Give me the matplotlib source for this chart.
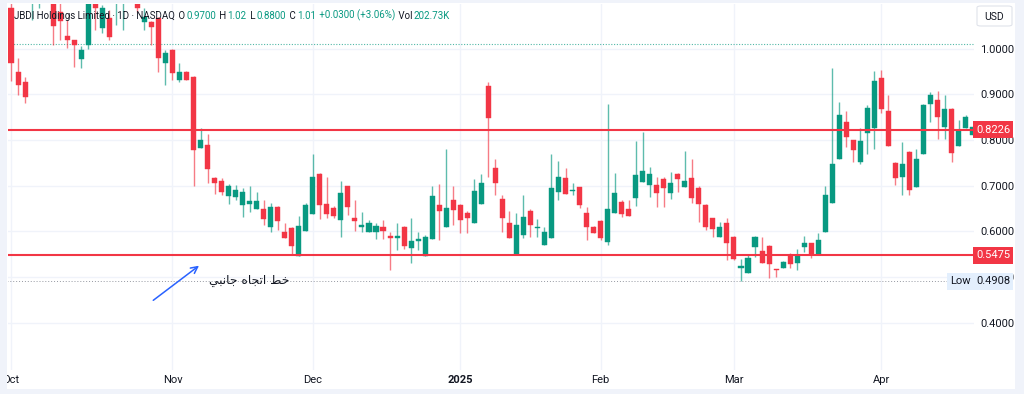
import matplotlib
matplotlib.use("Agg")
import matplotlib.pyplot as plt
import matplotlib.transforms as mtrans
from matplotlib.patches import Rectangle, FancyBboxPatch
import numpy as np

plt.rcParams['font.family'] = ['Roboto', 'DejaVu Sans']

# daily candles, JBDI, 1 Oct 2024 -> mid Apr 2025 (bar index = trading day)
opens = [1.09, 0.949, 0.927, 1.10, 1.12, 1.18, 1.13, 1.08, 1.028, 1.019,
         0.977, 1.008, 1.12, 1.046, 1.067, 1.10, 1.14, 1.17, 1.11, 1.058,
         1.058, 1.067, 0.968, 0.997, 0.931, 0.949, 0.938, 0.782, 0.789, 0.717,
         0.710, 0.677, 0.675, 0.658, 0.660, 0.649, 0.649, 0.609, 0.653, 0.599,
         0.607, 0.546, 0.601, 0.637, 0.725, 0.660, 0.651, 0.625, 0.699, 0.629,
         0.609, 0.599, 0.599, 0.609, 0.589, 0.585, 0.609, 0.564, 0.579, 0.546,
         0.583, 0.658, 0.609, 0.669, 0.658, 0.640, 0.618, 0.660, 0.918, 0.739,
         0.671, 0.618, 0.548, 0.592, 0.645, 0.607, 0.570, 0.585, 0.686, 0.717,
         0.689, 0.697, 0.640, 0.609, 0.623, 0.577, 0.640, 0.664, 0.649, 0.673,
         0.708, 0.701, 0.701, 0.714, 0.684, 0.725, 0.697, 0.717, 0.695, 0.658,
         0.629, 0.588, 0.618, 0.588, 0.520, 0.509, 0.566, 0.557, 0.568, 0.518,
         0.520, 0.548, 0.531, 0.566, 0.574, 0.548, 0.599, 0.662, 0.758, 0.840,
         0.800, 0.752, 0.815, 0.826, 0.936, 0.864, 0.750, 0.720, 0.774, 0.697,
         0.769, 0.879, 0.888, 0.829, 0.868, 0.787, 0.826, 0.811]
highs = [1.10, 0.980, 0.938, 1.16, 1.17, 1.22, 1.14, 1.11, 1.063, 1.020,
         1.006, 1.13, 1.13, 1.095, 1.085, 1.16, 1.20, 1.21, 1.12, 1.09,
         1.06, 1.07, 0.997, 1.00, 0.968, 0.951, 0.940, 0.826, 0.813, 0.720,
         0.717, 0.704, 0.701, 0.695, 0.699, 0.686, 0.669, 0.662, 0.655, 0.618,
         0.610, 0.634, 0.662, 0.769, 0.727, 0.719, 0.655, 0.710, 0.700, 0.669,
         0.642, 0.625, 0.618, 0.625, 0.599, 0.618, 0.612, 0.629, 0.599, 0.592,
         0.699, 0.704, 0.780, 0.699, 0.660, 0.645, 0.714, 0.725, 0.927, 0.758,
         0.679, 0.645, 0.640, 0.679, 0.650, 0.627, 0.609, 0.769, 0.754, 0.739,
         0.705, 0.697, 0.653, 0.612, 0.625, 0.879, 0.728, 0.669, 0.669, 0.798,
         0.818, 0.741, 0.719, 0.720, 0.730, 0.728, 0.776, 0.758, 0.700, 0.660,
         0.630, 0.620, 0.629, 0.590, 0.539, 0.548, 0.590, 0.588, 0.570, 0.518,
         0.535, 0.552, 0.561, 0.590, 0.574, 0.596, 0.699, 0.958, 0.883, 0.864,
         0.800, 0.826, 0.877, 0.951, 0.953, 0.899, 0.752, 0.796, 0.776, 0.780,
         0.879, 0.905, 0.908, 0.899, 0.870, 0.844, 0.855, 0.829]
lows = [0.930, 0.899, 0.881, 1.063, 1.09, 1.11, 1.008, 1.02, 1.001, 0.960,
        0.958, 0.999, 1.04, 1.035, 1.02, 1.052, 1.04, 1.10, 1.08, 1.04,
        1.008, 0.949, 0.920, 0.931, 0.927, 0.931, 0.699, 0.782, 0.705, 0.682,
        0.679, 0.660, 0.668, 0.631, 0.642, 0.649, 0.613, 0.599, 0.603, 0.585,
        0.550, 0.546, 0.601, 0.637, 0.627, 0.629, 0.629, 0.588, 0.636, 0.600,
        0.599, 0.599, 0.583, 0.583, 0.515, 0.559, 0.561, 0.531, 0.559, 0.546,
        0.583, 0.581, 0.609, 0.614, 0.596, 0.596, 0.618, 0.660, 0.719, 0.679,
        0.599, 0.585, 0.548, 0.585, 0.588, 0.588, 0.570, 0.585, 0.669, 0.682,
        0.679, 0.651, 0.581, 0.596, 0.581, 0.570, 0.640, 0.631, 0.634, 0.655,
        0.708, 0.675, 0.653, 0.653, 0.671, 0.686, 0.697, 0.662, 0.620, 0.603,
        0.588, 0.588, 0.537, 0.537, 0.4908, 0.509, 0.544, 0.531, 0.498, 0.500,
        0.520, 0.520, 0.515, 0.555, 0.541, 0.548, 0.599, 0.662, 0.758, 0.785,
        0.752, 0.747, 0.769, 0.780, 0.859, 0.787, 0.701, 0.679, 0.679, 0.697,
        0.769, 0.840, 0.802, 0.802, 0.752, 0.787, 0.826, 0.811]
closes = [0.968, 0.920, 0.894, 1.14, 1.15, 1.14, 1.05, 1.06, 1.019, 1.008,
          0.997, 1.11, 1.089, 1.089, 1.026, 1.14, 1.17, 1.12, 1.089, 1.07,
          1.047, 0.980, 0.990, 0.947, 0.949, 0.931, 0.778, 0.800, 0.736, 0.705,
          0.686, 0.699, 0.690, 0.686, 0.666, 0.666, 0.627, 0.653, 0.623, 0.585,
          0.568, 0.612, 0.658, 0.719, 0.658, 0.638, 0.633, 0.684, 0.653, 0.623,
          0.614, 0.618, 0.612, 0.601, 0.585, 0.589, 0.568, 0.579, 0.583, 0.587,
          0.677, 0.645, 0.651, 0.647, 0.625, 0.629, 0.688, 0.706, 0.848, 0.705,
          0.629, 0.585, 0.614, 0.631, 0.614, 0.609, 0.599, 0.695, 0.719, 0.682,
          0.690, 0.658, 0.609, 0.596, 0.585, 0.649, 0.684, 0.638, 0.634, 0.723,
          0.732, 0.725, 0.684, 0.695, 0.706, 0.714, 0.710, 0.673, 0.660, 0.609,
          0.605, 0.609, 0.574, 0.539, 0.524, 0.542, 0.588, 0.531, 0.529, 0.515,
          0.533, 0.529, 0.548, 0.574, 0.548, 0.581, 0.680, 0.748, 0.855, 0.807,
          0.778, 0.798, 0.870, 0.929, 0.868, 0.787, 0.717, 0.748, 0.690, 0.758,
          0.877, 0.899, 0.850, 0.868, 0.771, 0.820, 0.850, 0.829]

month_pos = [0, 23, 43, 64, 84, 103, 124]
month_labels = ['Oct', 'Nov', 'Dec', '2025', 'Feb', 'Mar', 'Apr']
price_ticks = [0.4, 0.5, 0.6, 0.7, 0.8, 0.9, 1.0]

resistance = 0.8226
support = 0.5475
period_low = 0.4908
last_mark = 1.01
note = 'خط اتجاه جانبي'

UP = '#089981'
DOWN = '#f23645'
TXT = '#131722'


def shape_arabic(s):
    # minimal contextual shaping + visual reordering (matplotlib has no bidi)
    forms = {
        'خ': (0xFEA5, 0xFEA6, 0xFEA7, 0xFEA8),
        'ط': (0xFEC1, 0xFEC2, 0xFEC3, 0xFEC4),
        'ا': (0xFE8D, 0xFE8E, None, None),
        'ت': (0xFE95, 0xFE96, 0xFE97, 0xFE98),
        'ج': (0xFE9D, 0xFE9E, 0xFE9F, 0xFEA0),
        'ه': (0xFEE9, 0xFEEA, 0xFEEB, 0xFEEC),
        'ن': (0xFEE5, 0xFEE6, 0xFEE7, 0xFEE8),
        'ب': (0xFE8F, 0xFE90, 0xFE91, 0xFE92),
        'ي': (0xFEF1, 0xFEF2, 0xFEF3, 0xFEF4),
    }
    out = []
    for k, ch in enumerate(s):
        if ch not in forms:
            out.append(ch)
            continue
        prev = s[k - 1] if k > 0 else ''
        nxt = s[k + 1] if k + 1 < len(s) else ''
        jp = prev in forms and forms[prev][2] is not None
        jn = nxt in forms and forms[ch][2] is not None
        f = forms[ch]
        code = f[3] if (jp and jn) else f[1] if jp else f[2] if jn else f[0]
        out.append(chr(code))
    return ''.join(out[::-1])


fig = plt.figure(figsize=(10.24, 3.94), dpi=100, facecolor='#f0f3fa')
fig.add_artist(Rectangle((7 / 1024, 5 / 394), 1008 / 1024, 386 / 394,
                         transform=fig.transFigure, fc='white', ec='none', zorder=-5))
ax = fig.add_axes([8 / 1024, 24 / 394, 966 / 1024, 366 / 394])
ax.set_facecolor('white')

idx = np.arange(len(opens))
o = np.array(opens)
c = np.array(closes)
h = np.array(highs)
l = np.array(lows)
col = np.where(c >= o, UP, DOWN)

ax.vlines(idx, l, h, colors=col, linewidth=1, alpha=0.65, zorder=3)
body = np.maximum(np.abs(c - o), 0.002)
ax.bar(idx, body, bottom=np.minimum(o, c), width=0.72, color=col,
       edgecolor=col, linewidth=0.3, zorder=4)

# grid
for p in price_ticks:
    ax.axhline(p, color='#f0f3fa', lw=1, zorder=0)
for m in month_pos:
    ax.axvline(m, color='#f0f3fa', lw=1, zorder=0)

# horizontal levels
ax.axhline(resistance, color=DOWN, lw=1.5, zorder=5)
ax.axhline(support, color=DOWN, lw=1.5, zorder=5)
ax.axhline(last_mark, color=UP, lw=0.8, ls=(0, (1, 1.5)), alpha=0.7, zorder=2)
ax.plot([-1, 134.3], [period_low, period_low], color='#9598a1', lw=0.7,
        ls=(0, (1, 2)), zorder=2)

ax.set_xlim(-0.43, 137.2)
ax.set_ylim(0.2965, 1.0979)

for s in ax.spines.values():
    s.set_visible(False)
ax.yaxis.tick_right()
ax.set_yticks(price_ticks)
ax.set_yticklabels(['%.4f' % p for p in price_ticks])
ax.tick_params(axis='y', length=0, pad=4.5, labelsize=8, labelcolor=TXT)
ax.set_xticks(month_pos)
ax.set_xticklabels(month_labels)
ax.tick_params(axis='x', length=0, pad=3.5, labelsize=8, labelcolor=TXT)
ax.get_xticklabels()[3].set_fontweight('bold')

# price scale labels
bt = mtrans.blended_transform_factory(fig.transFigure, ax.transData)
for v in (resistance, support):
    ax.text(993 / 1024, v, '%.4f' % v, transform=bt, ha='center', va='center',
            fontsize=8, color='white', zorder=20, clip_on=False,
            bbox=dict(boxstyle='square,pad=0.3', fc=DOWN, ec='none'))
ax.text(993 / 1024, period_low, '%.4f' % period_low, transform=bt, ha='center',
        va='center', fontsize=8, color=TXT, zorder=20, clip_on=False,
        bbox=dict(boxstyle='square,pad=0.3', fc='#e3effd', ec='none'))
ax.text(960.5 / 1024, period_low, 'Low', transform=bt, ha='center', va='center',
        fontsize=8, color=TXT, zorder=20, clip_on=False,
        bbox=dict(boxstyle='square,pad=0.3', fc='#e3effd', ec='none'))

# currency box
fig.add_artist(FancyBboxPatch((977 / 1024, 368 / 394), 35 / 1024, 20 / 394,
                              boxstyle='round,pad=0,rounding_size=0.004',
                              transform=fig.transFigure, fc='white', ec='#e0e3eb',
                              lw=0.8, zorder=6))
fig.text(994.5 / 1024, 377.5 / 394, 'USD', ha='center', va='center', fontsize=7.5,
         color=TXT, zorder=7)

# legend line
segs = [('JBDI Holdings Limited · 1D · NASDAQ', TXT), (' O', TXT), ('0.9700', UP),
        (' H', TXT), ('1.02', UP), (' L', TXT), ('0.8800', UP), (' C', TXT),
        ('1.01', UP), (' +0.0300 (+3.06%)', UP), (' Vol', TXT), ('202.73K', UP)]
prev = ax.text(6 / 966, 0.968, segs[0][0], transform=ax.transAxes, fontsize=7.0,
               color=segs[0][1], va='center', ha='left', zorder=15)
for txt, cc in segs[1:]:
    prev = ax.annotate(txt, xy=(1, 0), xycoords=prev, va='bottom', ha='left',
                       xytext=(0.8, 0), textcoords='offset points',
                       fontsize=7.0, color=cc, zorder=15)

# sideways-trend note
ax.annotate('', xy=(27.1, 0.5286), xytext=(19.95, 0.4454),
            arrowprops=dict(arrowstyle='->', color='#2962ff', lw=1.1,
                            mutation_scale=12), zorder=12)
ax.text(28.2, 0.4935, shape_arabic(note), family=['DejaVu Sans'], fontsize=8.8,
        color=TXT, ha='left', va='center', zorder=12)

# left strip cuts the first month label like the screenshot
fig.add_artist(Rectangle((0, 0), 7 / 1024, 1, transform=fig.transFigure,
                         fc='#f0f3fa', ec='none', zorder=30))

fig.savefig('out.png', dpi=100, facecolor=fig.get_facecolor())
